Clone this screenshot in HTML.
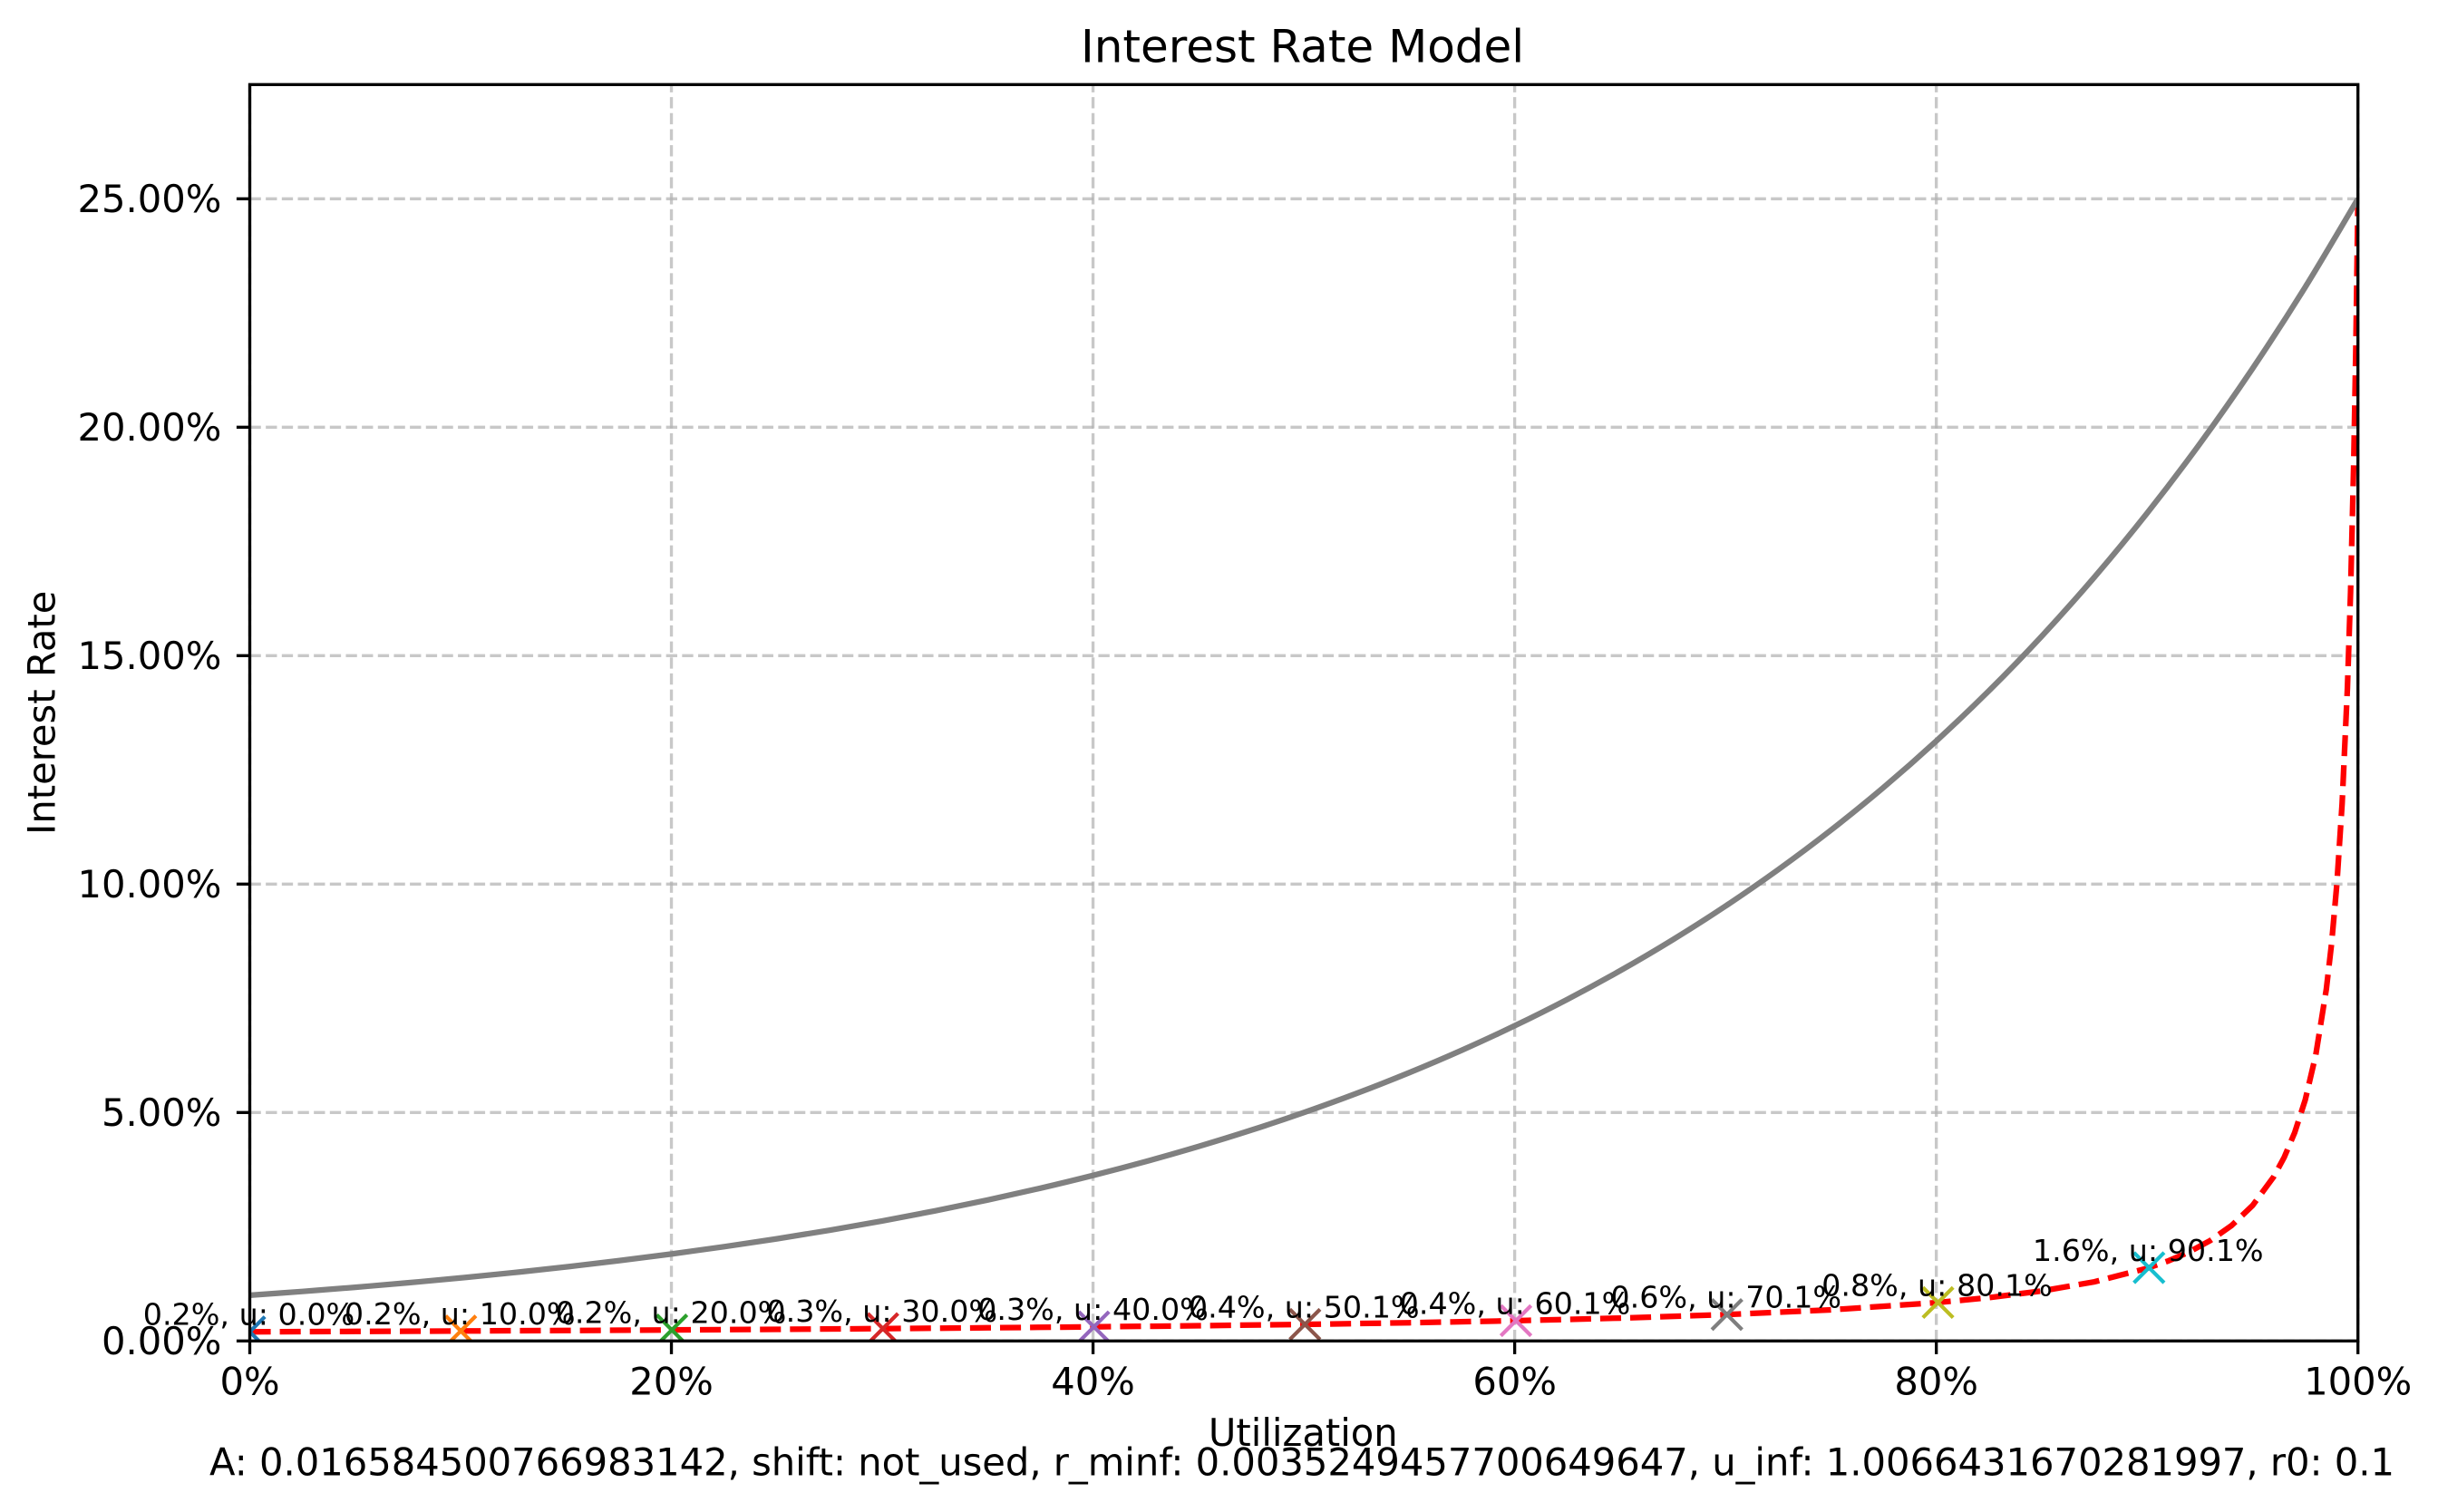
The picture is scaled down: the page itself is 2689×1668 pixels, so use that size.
<!DOCTYPE html>
<html lang="en">
<head>
<meta charset="utf-8">
<title>Interest Rate Model</title>
<style>
  html, body { margin: 0; padding: 0; background: #ffffff; }
  svg { display: block; }
  text { font-family: "DejaVu Sans", "Liberation Sans", sans-serif; fill: #000000; }
</style>
</head>
<body>
<svg id="chart" xmlns="http://www.w3.org/2000/svg" width="2689" height="1668" viewBox="0 0 2689 1668">
  <defs>
    <clipPath id="plot-clip"><rect x="275.5" y="93.3" width="2325.2" height="1386"></rect></clipPath>
  </defs>
  <rect x="0" y="0" width="2689" height="1668" fill="#ffffff"></rect>
  <g id="grid"></g>
  <g id="series" clip-path="url(#plot-clip)"></g>
  <rect x="275.5" y="93.3" width="2325.2" height="1386" fill="none" stroke="#000000" stroke-width="3.33"></rect>
  <g id="ticks"></g>
  <g id="annotations"></g>
  <text x="1436.6" y="68.3" font-size="50" text-anchor="middle">Interest Rate Model</text>
  <text x="1437.3" y="1595" font-size="41.67" text-anchor="middle">Utilization</text>
  <text transform="translate(60.7 786.3) rotate(-90)" font-size="41.67" text-anchor="middle">Interest Rate</text>
  <text x="1436" y="1627.3" font-size="41.67" text-anchor="middle" textLength="2410" lengthAdjust="spacing">A: 0.016584500766983142, shift: not_used, r_minf: 0.0035249457700649647, u_inf: 1.0066431670281997, r0: 0.1</text>
</svg>
<script>
// Chart data (utilization in percent, rates in percent)
const xTickValues = [0, 20, 40, 60, 80, 100];
const xTickLabels = ['0%', '20%', '40%', '60%', '80%', '100%'];
const yTickValues = [0, 5, 10, 15, 20, 25];
const yTickLabels = ['0.00%', '5.00%', '10.00%', '15.00%', '20.00%', '25.00%'];

const targetUtilization = [0, 2.5, 5, 7.5, 10, 12.5, 15, 17.5, 20, 22.5, 25, 27.5, 30, 32.5, 35, 37.5, 40, 42.5, 45, 47.5, 50, 52.5, 55, 57.5, 60, 62.5, 65, 67.5, 70, 72.5, 75, 77.5, 80, 82.5, 85, 87.5, 90, 92.5, 95, 97.5, 100];
const targetRate = [1.000, 1.0838, 1.1746, 1.2731, 1.3797, 1.4953, 1.6207, 1.7565, 1.9037, 2.0632, 2.2361, 2.4235, 2.6265, 2.8466, 3.0852, 3.3437, 3.6239, 3.9276, 4.2567, 4.6134, 5.0000, 5.4190, 5.8731, 6.3652, 6.8986, 7.4767, 8.1032, 8.7823, 9.5183, 10.316, 11.180, 12.117, 13.133, 14.233, 15.426, 16.719, 18.120, 19.638, 21.284, 23.067, 25.000];

const curveUtilization = [0, 5, 10, 15, 20, 25, 30, 35, 40, 45, 50, 55, 60, 65, 70, 75, 80, 82.5, 85, 87.5, 90, 91, 92, 93, 94, 95, 96, 96.5, 97, 97.5, 98, 98.5, 98.75, 99, 99.25, 99.5, 99.65, 99.8, 99.9, 100];
const curveRate = [0.2000, 0.2086, 0.2182, 0.2288, 0.2408, 0.2544, 0.2699, 0.2878, 0.3086, 0.3332, 0.3626, 0.3984, 0.4431, 0.5003, 0.5761, 0.6815, 0.8378, 0.9483, 1.0940, 1.2951, 1.5904, 1.7513, 1.9494, 2.1992, 2.5239, 2.9632, 3.5910, 4.0179, 4.5613, 5.2765, 6.2601, 7.6982, 8.6990, 10.0004, 11.762, 14.280, 16.386, 19.224, 21.735, 25.001];

const pointUtilization = [0, 10.01, 20.02, 30.03, 40.04, 50.05, 60.06, 70.07, 80.08, 90.09];
const pointRate = [0.2000, 0.2182, 0.2409, 0.2700, 0.3088, 0.3629, 0.4437, 0.5773, 0.8410, 1.6037];
const pointLabels = ['0.2%, u: 0.0%', '0.2%, u: 10.0%', '0.2%, u: 20.0%', '0.3%, u: 30.0%', '0.3%, u: 40.0%', '0.4%, u: 50.1%', '0.4%, u: 60.1%', '0.6%, u: 70.1%', '0.8%, u: 80.1%', '1.6%, u: 90.1%'];
const pointPalette = ['#1f77b4', '#ff7f0e', '#2ca02c', '#d62728', '#9467bd', '#8c564b', '#e377c2', '#7f7f7f', '#bcbd22', '#17becf'];

// Axis functions
const SVG_NS = 'http://www.w3.org/2000/svg';
const plotLeft = 275.5, plotRight = 2600.7, plotTop = 93.3, plotBottom = 1479.3;
const xMin = 0, xMax = 100, yMin = 0, yMax = 27.5;
const markerHalf = 16.67;
function xScale(v) { return plotLeft + (v - xMin) / (xMax - xMin) * (plotRight - plotLeft); }
function yScale(v) { return plotBottom - (v - yMin) / (yMax - yMin) * (plotBottom - plotTop); }
function polyPoints(xs, ys) { return xs.map(function (x, i) { return xScale(x).toFixed(2) + ',' + yScale(ys[i]).toFixed(2); }).join(' '); }
// Smooth path through the data points (Catmull-Rom tangents)
function smoothPath(xs, ys) {
  const px = xs.map(xScale);
  const py = ys.map(yScale);
  let d = 'M' + px[0].toFixed(2) + ' ' + py[0].toFixed(2);
  for (let i = 0; i < px.length - 1; i++) {
    const a = Math.max(i - 1, 0);
    const b = Math.min(i + 2, px.length - 1);
    const c1x = px[i] + (px[i + 1] - px[a]) / 6;
    const c1y = py[i] + (py[i + 1] - py[a]) / 6;
    const c2x = px[i + 1] - (px[b] - px[i]) / 6;
    const c2y = py[i + 1] - (py[b] - py[i]) / 6;
    d += 'C' + c1x.toFixed(2) + ' ' + c1y.toFixed(2) + ' ' + c2x.toFixed(2) + ' ' + c2y.toFixed(2) + ' ' + px[i + 1].toFixed(2) + ' ' + py[i + 1].toFixed(2);
  }
  return d;
}

const gridGroup = document.getElementById('grid');
const seriesGroup = document.getElementById('series');
const ticksGroup = document.getElementById('ticks');
const annotationGroup = document.getElementById('annotations');

function makeLine(x1, y1, x2, y2, stroke, width) {
  const line = document.createElementNS(SVG_NS, 'line');
  line.setAttribute('x1', x1);
  line.setAttribute('y1', y1);
  line.setAttribute('x2', x2);
  line.setAttribute('y2', y2);
  line.setAttribute('stroke', stroke);
  line.setAttribute('stroke-width', width);
  return line;
}

xTickValues.forEach(function (value, i) {
  const x = xScale(value);
  const gridLine = makeLine(x, plotBottom, x, plotTop, '#b0b0b0', 3.33);
  gridLine.setAttribute('stroke-opacity', '0.7');
  gridLine.setAttribute('stroke-dasharray', '12.33 5.33');
  
  
  gridGroup.appendChild(gridLine);

  const tick = makeLine(x, plotBottom, x, plotBottom + 14.6, '#000000', 3.33);
  
  
  ticksGroup.appendChild(tick);

  const label = document.createElementNS(SVG_NS, 'text');
  label.setAttribute('x', x);
  label.setAttribute('y', 1538.3);
  label.setAttribute('font-size', '41.67');
  label.setAttribute('text-anchor', 'middle');
  
  
  label.textContent = xTickLabels[i];
  ticksGroup.appendChild(label);
});

yTickValues.forEach(function (value, i) {
  const y = yScale(value);
  const gridLine = makeLine(plotLeft, y, plotRight, y, '#b0b0b0', 3.33);
  gridLine.setAttribute('stroke-opacity', '0.7');
  gridLine.setAttribute('stroke-dasharray', '12.33 5.33');
  
  
  gridGroup.appendChild(gridLine);

  const tick = makeLine(plotLeft - 14.6, y, plotLeft, y, '#000000', 3.33);
  
  
  ticksGroup.appendChild(tick);

  const label = document.createElementNS(SVG_NS, 'text');
  label.setAttribute('x', 244.3);
  label.setAttribute('y', y + 14.7);
  label.setAttribute('font-size', '41.67');
  label.setAttribute('text-anchor', 'end');
  
  
  label.textContent = yTickLabels[i];
  ticksGroup.appendChild(label);
});

const rateCurve = document.createElementNS(SVG_NS, 'polyline');
rateCurve.setAttribute('points', polyPoints(curveUtilization, curveRate));
rateCurve.setAttribute('fill', 'none');
rateCurve.setAttribute('stroke', '#ff0000');
rateCurve.setAttribute('stroke-width', '6.25');
rateCurve.setAttribute('stroke-dasharray', '23.1 10');


seriesGroup.appendChild(rateCurve);

const targetCurve = document.createElementNS(SVG_NS, 'path');
targetCurve.setAttribute('d', smoothPath(targetUtilization, targetRate));
targetCurve.setAttribute('fill', 'none');
targetCurve.setAttribute('stroke', '#808080');
targetCurve.setAttribute('stroke-width', '6.25');
targetCurve.setAttribute('stroke-linejoin', 'round');


seriesGroup.appendChild(targetCurve);

pointUtilization.forEach(function (value, i) {
  const cx = xScale(value);
  const cy = yScale(pointRate[i]);
  const marker = document.createElementNS(SVG_NS, 'path');
  marker.setAttribute('d', 'M' + (cx - markerHalf) + ' ' + (cy - markerHalf) + 'L' + (cx + markerHalf) + ' ' + (cy + markerHalf) + 'M' + (cx - markerHalf) + ' ' + (cy + markerHalf) + 'L' + (cx + markerHalf) + ' ' + (cy - markerHalf));
  marker.setAttribute('fill', 'none');
  marker.setAttribute('stroke', pointPalette[i]);
  marker.setAttribute('stroke-width', '4.17');
  
  
  seriesGroup.appendChild(marker);

  const note = document.createElementNS(SVG_NS, 'text');
  note.setAttribute('x', cx - 1);
  note.setAttribute('y', cy - 7.5);
  note.setAttribute('font-size', '33.33');
  note.setAttribute('text-anchor', 'middle');
  
  
  note.textContent = pointLabels[i];
  annotationGroup.appendChild(note);
});
</script>
</body>
</html>
